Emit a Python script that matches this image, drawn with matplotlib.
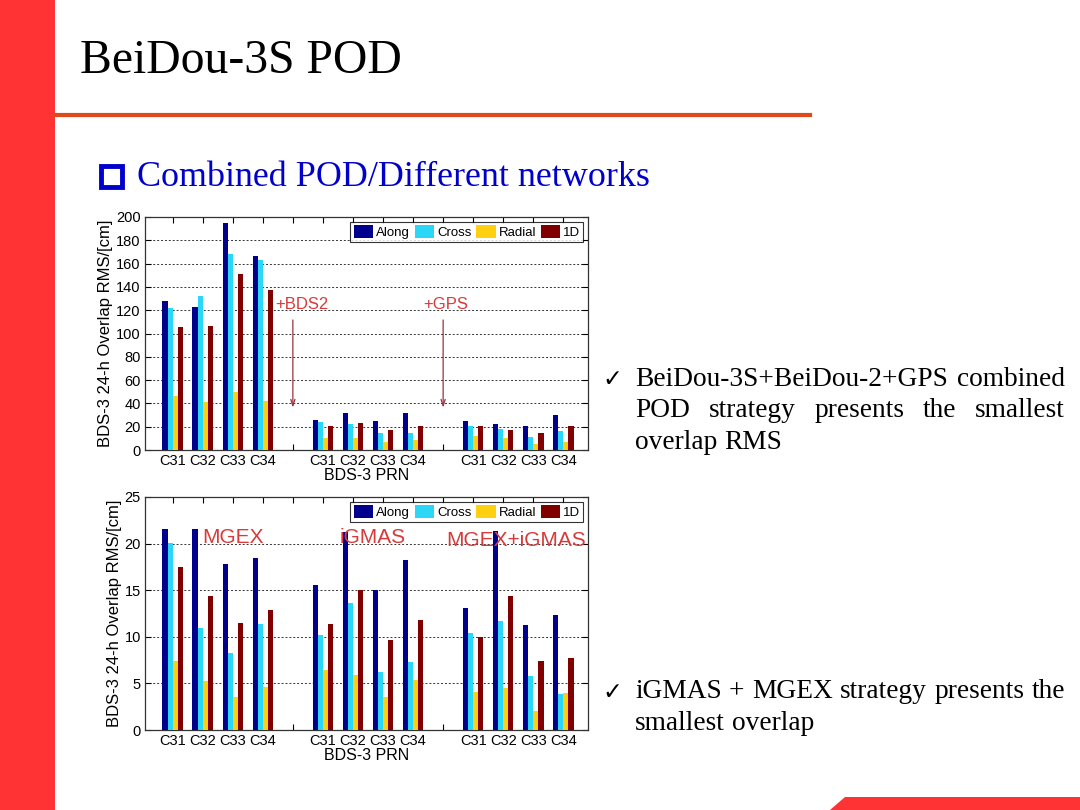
import matplotlib
matplotlib.use("Agg")
import matplotlib.pyplot as plt
from matplotlib.patches import Rectangle, Polygon
import numpy as np

# ---------------- data ----------------
prns = ["C31", "C32", "C33", "C34"]
series = ["Along", "Cross", "Radial", "1D"]
colors = ["#00008C", "#2CD6F6", "#FFD010", "#800000"]

# top chart: BDS-3 only | +BDS2 | +GPS
top_along  = [128, 123, 195, 166.6, 25.7, 31.4, 25.0, 31.4, 25.0, 22.6, 20.6, 30.3]
top_cross  = [122, 132, 168.6, 163, 24.0, 22.6, 14.3, 14.3, 20.6, 17.7, 11.4, 16.3]
top_radial = [46.6, 41, 49.7, 42, 10.3, 10.3, 6.6, 8.6, 12.3, 10.3, 4.9, 7.1]
top_1d     = [106, 106.5, 151, 137, 21.0, 23.4, 17.0, 21.0, 20.3, 17.4, 14.3, 20.3]

# bottom chart: MGEX | iGMAS | MGEX+iGMAS
bot_along  = [21.56, 21.56, 17.77, 18.48, 15.51, 21.2, 14.97, 18.23, 13.04, 21.31, 11.28, 12.36]
bot_cross  = [20.06, 10.96, 8.31, 11.39, 10.14, 13.65, 6.27, 7.27, 10.46, 11.68, 5.8, 3.9]
bot_radial = [7.41, 5.3, 3.55, 4.66, 6.41, 5.87, 3.51, 5.37, 4.08, 4.51, 2.08, 4.01]
bot_1d     = [17.51, 14.33, 11.46, 12.86, 11.35, 14.97, 9.63, 11.82, 9.99, 14.33, 7.38, 7.77]

top_notes = ["+BDS2", "+GPS"]
bot_notes = ["MGEX", "iGMAS", "MGEX+iGMAS"]

# ---------------- figure ----------------
W, H = 1080, 810
fig = plt.figure(figsize=(W / 100, H / 100), dpi=100)
fig.patch.set_facecolor("white")

def px(x, y):
    return x / W, 1 - y / H

# slide decoration
fig.add_artist(Rectangle((0, 0), 55 / W, 1, transform=fig.transFigure,
                         facecolor="#FF3333", edgecolor="none"))
fig.add_artist(plt.Line2D([55 / W, 810 / W], [1 - 115 / H] * 2, transform=fig.transFigure,
                          color="#E04A1A", lw=3))
fig.add_artist(Polygon([px(830, 810), px(845, 797), px(1080, 797), px(1080, 810)],
                       closed=True, transform=fig.transFigure,
                       facecolor="#FF3333", edgecolor="none"))

serif = "Liberation Serif"
fig.text(80 / W, 1 - 61 / H, "BeiDou-3S POD", family=serif, fontsize=34.3,
         ha="left", va="center", color="black")
fig.add_artist(Rectangle(px(101, 187), 21 / W, 21 / H, transform=fig.transFigure,
                         facecolor="none", edgecolor="#0000CC", lw=3.5))
fig.text(137 / W, 1 - 177 / H, "Combined POD/Different networks", family=serif,
         fontsize=25.9, ha="left", va="center", color="#0000CC")

# ---------------- charts ----------------
n_groups = 3
n_prn = len(prns)
positions = []
for g in range(n_groups):
    for k in range(n_prn):
        positions.append(g * (n_prn + 1) + k + 1)
positions = np.array(positions, dtype=float)
all_ticks = np.arange(1, n_groups * (n_prn + 1))
tick_labels = [prns[(t - 1) % (n_prn + 1)] if (t % (n_prn + 1)) != 0 else "" for t in all_ticks]

bar_w = 0.17
offsets = np.array([-1.5, -0.5, 0.5, 1.5]) * bar_w
sans = "Liberation Sans"

def make_chart(rect, vals, ymax, ystep):
    ax = fig.add_axes(rect)
    for i, v in enumerate(vals):
        ax.bar(positions + offsets[i], v, width=bar_w, color=colors[i],
               edgecolor="none", label=series[i], zorder=3)
    ax.set_xlim(0.08, 14.82)
    ax.set_ylim(0, ymax)
    ax.set_yticks(np.arange(0, ymax + 0.1, ystep))
    ax.set_xticks(all_ticks)
    ax.set_xticklabels(tick_labels, family=sans, fontsize=10.5)
    for lab in ax.get_yticklabels():
        lab.set_family(sans)
        lab.set_fontsize(10.5)
    ax.tick_params(direction="in", top=True, right=True, length=4, width=0.8, pad=3)
    ax.yaxis.grid(True, linestyle=(0, (2, 2)), color="#333333", lw=0.7, zorder=0)
    ax.set_axisbelow(True)
    for s in ax.spines.values():
        s.set_color("#333333")
        s.set_linewidth(0.9)
    ax.set_xlabel("BDS-3 PRN", family=sans, fontsize=11.5, labelpad=0)
    ax.set_ylabel("BDS-3 24-h Overlap RMS/[cm]", family=sans, fontsize=12, labelpad=2)
    leg = ax.legend(loc="upper right", ncol=4, frameon=True, fancybox=False,
                    edgecolor="black", handlelength=1.5, handleheight=1.1, handletextpad=0.2,
                    columnspacing=0.35, borderaxespad=0.35, borderpad=0.25,
                    prop={"family": sans, "size": 9.5})
    leg.get_frame().set_linewidth(0.8)
    return ax

ax1 = make_chart([145 / W, 1 - 450 / H, 443 / W, 233 / H],
                 [top_along, top_cross, top_radial, top_1d], 200, 20)
ax2 = make_chart([145 / W, 1 - 730 / H, 443 / W, 233 / H],
                 [bot_along, bot_cross, bot_radial, bot_1d], 25, 5)

note_red = "#D83A3A"
arrow_red = "#A03040"
# top annotations
for xt, xa, txt in zip([4.4, 9.33], [5, 10], top_notes):
    ax1.text(xt, 125, txt, color=note_red, fontsize=12, family=sans, ha="left", va="center")
    ax1.annotate("", xy=(xa, 34), xytext=(xa, 114),
                 arrowprops=dict(arrowstyle="->,head_length=0.45,head_width=0.15",
                                 color=arrow_red, lw=0.9))
# bottom annotations
for xt, yt, txt in zip([1.97, 6.57, 10.12], [20.7, 20.7, 20.3], bot_notes):
    ax2.text(xt, yt, txt, color=note_red, fontsize=15, family=sans, ha="left", va="center")

# ---------------- right text (justified) ----------------
renderer = fig.canvas.get_renderer()

def justified_line(line, x0, x1, y, justify=True, size=19.7):
    words = line.split()
    objs = [fig.text(x0 / W, 1 - y / H, w, family=serif, fontsize=size,
                     ha="left", va="center") for w in words]
    widths = [o.get_window_extent(renderer).width for o in objs]
    if justify and len(words) > 1:
        gap = (x1 - x0 - sum(widths)) / (len(words) - 1)
    else:
        sp = fig.text(0, 0, "a a", family=serif, fontsize=size)
        sp2 = fig.text(0, 0, "aa", family=serif, fontsize=size)
        gap = sp.get_window_extent(renderer).width - sp2.get_window_extent(renderer).width
        sp.remove(); sp2.remove()
    x = x0
    for o, wd in zip(objs, widths):
        o.set_x(x / W)
        x += wd + gap

bullets = [
    (379, ["BeiDou-3S+BeiDou-2+GPS combined", "POD strategy presents the smallest", "overlap RMS"]),
    (692, ["iGMAS + MGEX strategy presents the", "smallest overlap"]),
]
for y0, lines in bullets:
    fig.text(602 / W, 1 - y0 / H, "\u2713", family="DejaVu Sans", fontsize=17,
             ha="left", va="center", color="black")
    for j, ln in enumerate(lines):
        justified_line(ln, 635, 1065, y0 + j * 31.5, justify=(j < len(lines) - 1))

fig.savefig("out.png", dpi=100, facecolor="white")
